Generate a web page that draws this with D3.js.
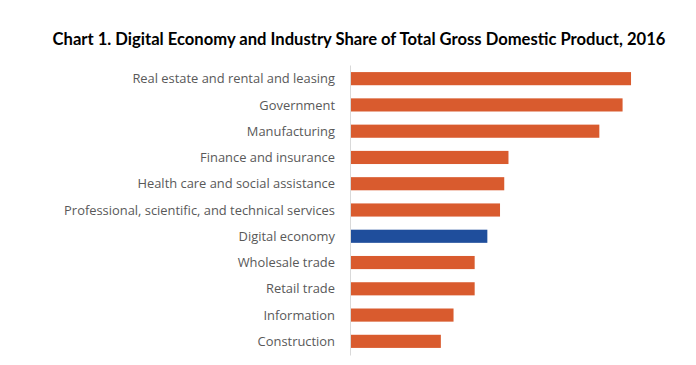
<!DOCTYPE html>
<html>
<head>
<meta charset="utf-8">
<script src="https://cdn.jsdelivr.net/npm/d3@7"></script>
<style>
  body { margin: 0; background: #fff; }
</style>
</head>
<body>
<div id="chart"></div>
<script>
// industry share of GDP, 2016 (percent)
const categories = [
  'Real estate and rental and leasing',
  'Government',
  'Manufacturing',
  'Finance and insurance',
  'Health care and social assistance',
  'Professional, scientific, and technical services',
  'Digital economy',
  'Wholesale trade',
  'Retail trade',
  'Information',
  'Construction'
];
const shares = [13.3, 12.9, 11.8, 7.5, 7.3, 7.1, 6.5, 5.9, 5.9, 4.9, 4.3];
const highlight = 'Digital economy';

const width = 696, height = 365;
const margin = {top: 65, right: 50, bottom: 10, left: 350};

const svg = d3.select('#chart').append('svg')
  .attr('width', width)
  .attr('height', height);

svg.append('text')
  .attr('x', 359)
  .attr('y', 45)
  .attr('text-anchor', 'middle')
  .style('font-family', 'Lato, "Open Sans", sans-serif')
  .style('font-weight', 'bold')
  .style('font-size', '16.6px')
  .style('fill', '#000')
  .text('Chart 1. Digital Economy and Industry Share of Total Gross Domestic Product, 2016');

const x = d3.scaleLinear()
  .domain([0, 14])
  .range([margin.left, margin.left + 14 * 21.13]);

const y = d3.scaleBand()
  .domain(categories)
  .range([margin.top, height - margin.bottom])
  .paddingInner(0.5)
  .paddingOuter(0.27);

const rows = categories.map((c, i) => ({name: c, value: shares[i]}));

svg.append('g')
  .selectAll('rect')
  .data(rows)
  .enter()
  .append('rect')
  .attr('x', x(0))
  .attr('y', d => y(d.name))
  .attr('width', d => x(d.value) - x(0))
  .attr('height', y.bandwidth())
  .style('fill', d => d.name === highlight ? '#1f4e9c' : '#d95b2e');

// category axis, no ticks
const axis = svg.append('g')
  .attr('transform', 'translate(' + x(0) + ',0)')
  .call(d3.axisLeft(y).tickSize(0).tickPadding(15));

axis.select('.domain')
  .attr('stroke', '#d9d9d9')
  .attr('stroke-width', 1);

axis.selectAll('text')
  .attr('dy', '0.36em')
  .style('font-family', '"Open Sans", sans-serif')
  .style('font-size', '12.9px')
  .style('fill', '#595959');
</script>
</body>
</html>
